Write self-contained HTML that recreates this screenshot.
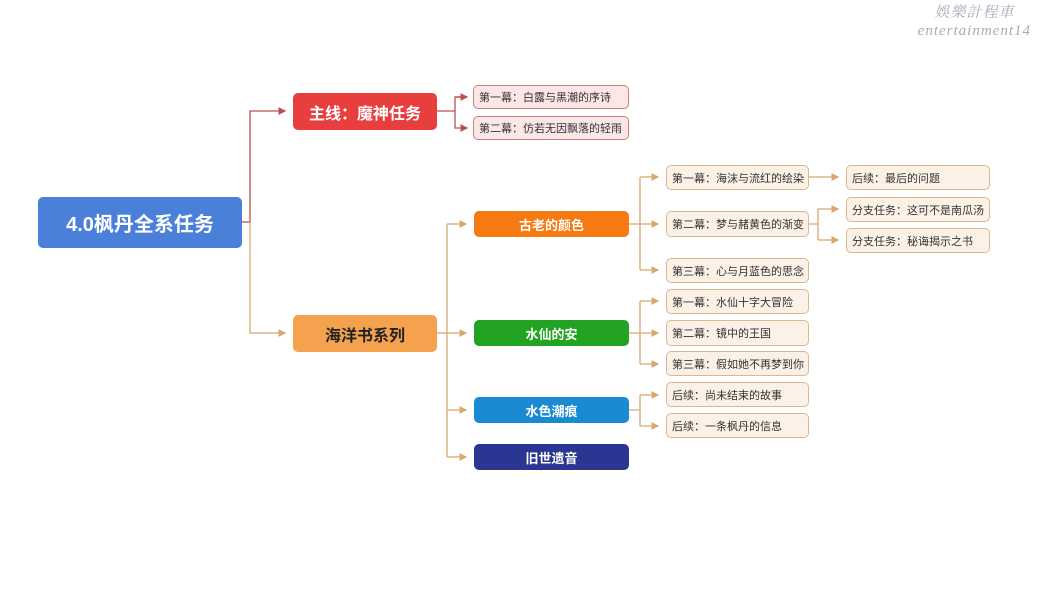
<!DOCTYPE html>
<html><head><meta charset="utf-8"><style>
body{margin:0;width:1045px;height:596px;background:#fff;position:relative;overflow:hidden;font-family:"Liberation Sans","Noto Sans CJK SC",sans-serif}
.n{position:absolute;box-sizing:border-box;display:flex;align-items:center;justify-content:center;border-radius:5px;color:#fff;font-weight:bold;white-space:nowrap}
.l{position:absolute;box-sizing:border-box;display:flex;align-items:center;padding-left:5px;border-radius:5px;font-size:11px;color:#333;white-space:nowrap;background:#fbf1e6;border:1.5px solid #dcb88e;overflow:hidden}
.p{background:#fce6e6;border-color:#c98080}
svg{position:absolute;left:0;top:0}
.wm{position:absolute;right:14px;top:4px;color:#aab;text-align:center;font-style:italic;font-family:"Liberation Serif","Noto Serif CJK SC",serif;font-size:15px;line-height:18px;letter-spacing:1px}
</style></head><body>
<svg width="1045" height="596" fill="none" stroke-width="1.3">
<defs>
<marker id="r" markerWidth="6" markerHeight="6" refX="5" refY="3" orient="auto"><path d="M0,0L6,3L0,6z" fill="#b85050" stroke="none"/></marker>
<marker id="o" markerWidth="6" markerHeight="6" refX="5" refY="3" orient="auto"><path d="M0,0L6,3L0,6z" fill="#d8a870" stroke="none"/></marker>
</defs>
<g stroke="#b85050">
<path d="M242,222H250V111H285" marker-end="url(#r)"/>
<path d="M437,111H455V97H467M455,111V128H467" marker-end="url(#r)"/>
<path d="M455,97H467" marker-end="url(#r)"/>
</g>
<g stroke="#d8a870">
<path d="M250,222V333H285" marker-end="url(#o)"/>
<path d="M437,333H447"/>
<path d="M447,224V457"/>
<path d="M447,224H466" marker-end="url(#o)"/>
<path d="M447,333H466" marker-end="url(#o)"/>
<path d="M447,410H466" marker-end="url(#o)"/>
<path d="M447,457H466" marker-end="url(#o)"/>
<path d="M629,224H640M640,177V270"/>
<path d="M640,177H658" marker-end="url(#o)"/>
<path d="M640,224H658" marker-end="url(#o)"/>
<path d="M640,270H658" marker-end="url(#o)"/>
<path d="M629,333H640M640,301V364"/>
<path d="M640,301H658" marker-end="url(#o)"/>
<path d="M640,333H658" marker-end="url(#o)"/>
<path d="M640,364H658" marker-end="url(#o)"/>
<path d="M629,410H640M640,395V426"/>
<path d="M640,395H658" marker-end="url(#o)"/>
<path d="M640,426H658" marker-end="url(#o)"/>
<path d="M809,177H838" marker-end="url(#o)"/>
<path d="M809,224H818M818,209V240"/>
<path d="M818,209H838" marker-end="url(#o)"/>
<path d="M818,240H838" marker-end="url(#o)"/>
</g>
</svg>
<div class="n" style="left:38px;top:197px;width:204px;height:51px;background:#4a80da;font-size:20px">4.0枫丹全系任务</div>
<div class="n" style="left:293px;top:93px;width:144px;height:37px;background:#e83e3e;font-size:16px">主线：魔神任务</div>
<div class="n" style="left:293px;top:315px;width:144px;height:37px;background:#f5a24e;font-size:16px;color:#222">海洋书系列</div>
<div class="l p" style="left:473px;top:85px;width:156px;height:24px">第一幕：白露与黑潮的序诗</div>
<div class="l p" style="left:473px;top:116px;width:156px;height:24px">第二幕：仿若无因飘落的轻雨</div>
<div class="n" style="left:474px;top:211px;width:155px;height:26px;background:#f57a12;font-size:13px">古老的颜色</div>
<div class="n" style="left:474px;top:320px;width:155px;height:26px;background:#22a322;font-size:13px">水仙的安</div>
<div class="n" style="left:474px;top:397px;width:155px;height:26px;background:#1a8bd2;font-size:13px">水色潮痕</div>
<div class="n" style="left:474px;top:444px;width:155px;height:26px;background:#2b3692;font-size:13px">旧世遗音</div>
<div class="l" style="left:666px;top:165px;width:143px;height:25px">第一幕：海沫与流红的绘染</div>
<div class="l" style="left:666px;top:211px;width:143px;height:26px">第二幕：梦与赭黄色的渐变</div>
<div class="l" style="left:666px;top:258px;width:143px;height:25px">第三幕：心与月蓝色的思念</div>
<div class="l" style="left:666px;top:289px;width:143px;height:25px">第一幕：水仙十字大冒险</div>
<div class="l" style="left:666px;top:320px;width:143px;height:26px">第二幕：镜中的王国</div>
<div class="l" style="left:666px;top:351px;width:143px;height:25px">第三幕：假如她不再梦到你</div>
<div class="l" style="left:666px;top:382px;width:143px;height:25px">后续：尚未结束的故事</div>
<div class="l" style="left:666px;top:413px;width:143px;height:25px">后续：一条枫丹的信息</div>
<div class="l" style="left:846px;top:165px;width:144px;height:25px">后续：最后的问题</div>
<div class="l" style="left:846px;top:197px;width:144px;height:25px">分支任务：这可不是南瓜汤</div>
<div class="l" style="left:846px;top:228px;width:144px;height:25px">分支任务：秘诲揭示之书</div>
<div class="wm">娛樂計程車<br>entertainment14</div>
</body></html>
